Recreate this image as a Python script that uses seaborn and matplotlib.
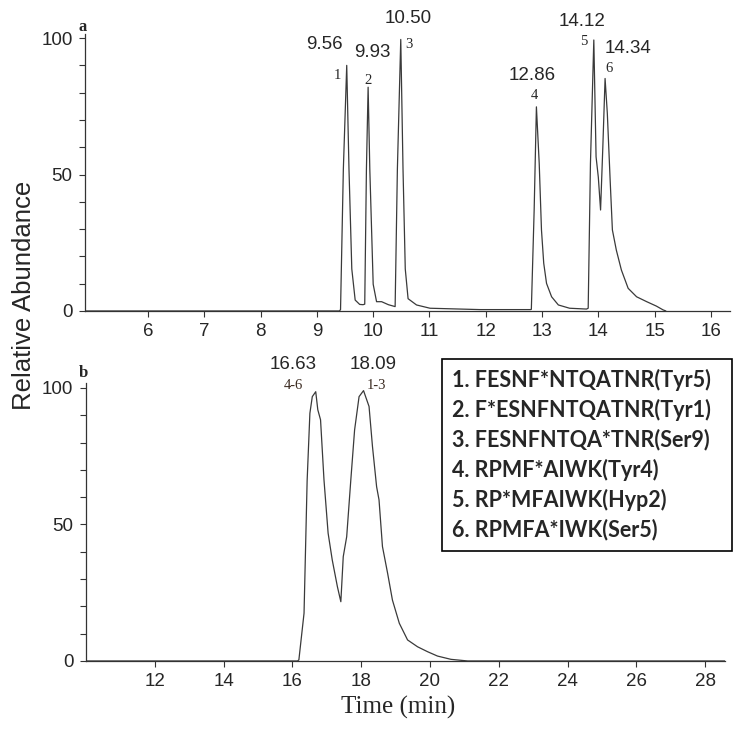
import matplotlib
matplotlib.use("Agg")
import matplotlib.pyplot as plt
from matplotlib.patches import Rectangle
from matplotlib.ticker import MultipleLocator
import pandas as pd
import seaborn as sns

# chromatogram a (time in min, relative abundance)
t_a = [4.88, 9.40, 9.42, 9.47, 9.53, 9.57, 9.62, 9.68, 9.76, 9.82, 9.85, 9.88, 9.91,
       9.94, 10.00, 10.06, 10.15, 10.27, 10.39, 10.43, 10.49, 10.53, 10.57, 10.62,
       10.77, 11.01, 11.90, 12.79, 12.81, 12.86, 12.90, 12.95, 12.99, 13.03, 13.08,
       13.17, 13.29, 13.49, 13.79, 13.82, 13.86, 13.92, 13.96, 14.00, 14.04, 14.08,
       14.12, 14.16, 14.21, 14.25, 14.32, 14.41, 14.53, 14.68, 14.86, 15.03, 15.15,
       15.20]
y_a = [0, 0, 0.5, 52, 90, 52, 15.4, 4, 2.4, 2.3, 2.5, 52, 82,
       52, 9.8, 3.4, 3.4, 2.3, 1.6, 52, 99.5, 52, 15.4, 4.5,
       2.2, 1.0, 0.5, 0.5, 0.6, 37, 74.8, 54, 29.7, 17.5, 10.1,
       5.2, 2.2, 1.0, 0.7, 1.0, 54, 99.3, 56.5, 49, 37, 60,
       85.2, 72.4, 48, 29.7, 22.3, 15, 8.3, 5.2, 3.4, 1.8, 0.4,
       0]

# chromatogram b
t_b = [10.0, 16.15, 16.19, 16.34, 16.43, 16.51, 16.58, 16.68, 16.74, 16.82, 16.92,
       17.04, 17.16, 17.31, 17.41, 17.48, 17.58, 17.70, 17.81, 17.94, 18.07, 18.13,
       18.23, 18.33, 18.45, 18.52, 18.62, 18.77, 18.91, 19.11, 19.35, 19.64, 19.93,
       20.22, 20.61, 21.10, 28.58]
y_b = [0, 0, 0.4, 17.5, 66, 90.7, 96.8, 98.6, 92, 88.3, 66.3,
       46.8, 37, 27.2, 21.7, 38.2, 45.5, 66.3, 84.6, 96.8, 99, 96.8,
       93.2, 78.5, 63.8, 59, 41.9, 32.1, 22.3, 13.8, 7.7, 5.2, 3.4,
       1.8, 0.6, 0, 0]

# peak annotations: (x, y, text)
rt_a = [(9.13, 97.8, "9.56"), (9.98, 94.9, "9.93"), (10.62, 107, "10.50"),
        (12.82, 86.4, "12.86"), (13.71, 105.9, "14.12"), (14.52, 96.3, "14.34")]
num_a = [(9.36, 86.4, "1"), (9.91, 84.6, "2"), (10.63, 97.8, "3"),
         (12.87, 79.1, "4"), (13.74, 98.9, "5"), (14.19, 89.0, "6")]
rt_b = [(16.03, 108.4, "16.63"), (18.34, 108.4, "18.09")]
num_b = [(16.03, 100.7, "4-6"), (18.45, 100.7, "1-3")]

legend_lines = ["1. FESNF*NTQATNR(Tyr5)", "2. F*ESNFNTQATNR(Tyr1)",
                "3. FESNFNTQA*TNR(Ser9)", "4. RPMF*AIWK(Tyr4)",
                "5. RP*MFAIWK(Hyp2)", "6. RPMFA*IWK(Ser5)"]

sns.set_style("ticks")
plt.rcParams['font.family'] = ['Liberation Sans', 'DejaVu Sans']

fig = plt.figure(figsize=(7.45, 7.31), dpi=100)
ax_a = fig.add_axes([0.1141, 0.5746, 0.8658, 0.3789])
ax_b = fig.add_axes([0.1154, 0.0958, 0.8578, 0.3803])

df_a = pd.DataFrame({"t": t_a, "y": y_a})
df_b = pd.DataFrame({"t": t_b, "y": y_b})
sns.lineplot(data=df_a, x="t", y="y", ax=ax_a, color="#3a3a3a", lw=0.9, sort=False)
sns.lineplot(data=df_b, x="t", y="y", ax=ax_b, color="#3a3a3a", lw=0.9, sort=False)

ax_a.set_xlim(4.88, 16.34)
ax_a.set_ylim(0, 101.5)
ax_a.set_xticks(range(6, 17))
ax_b.set_xlim(10, 28.58)
ax_b.set_ylim(0, 101.8)
ax_b.set_xticks(range(12, 29, 2))

for ax in (ax_a, ax_b):
    ax.set_yticks([0, 50, 100])
    ax.yaxis.set_minor_locator(MultipleLocator(10))
    ax.tick_params(axis="both", which="both", direction="out", length=4,
                   width=0.8, color="#333333", labelsize=13.5, pad=5)
    ax.spines["right"].set_visible(False)
    ax.spines["top"].set_visible(False)
    for s in ("left", "bottom"):
        ax.spines[s].set_linewidth(0.9)
        ax.spines[s].set_color("#333333")
    ax.set_xlabel("")
    ax.set_ylabel("")

for x, y, s in rt_a:
    ax_a.text(x, y, s, ha="center", va="center", fontsize=13.5, clip_on=False)
for x, y, s in num_a:
    ax_a.text(x, y, s, ha="center", va="center", fontsize=10.5,
              family="Liberation Serif", clip_on=False)
for x, y, s in rt_b:
    ax_b.text(x, y, s, ha="center", va="center", fontsize=13.5, clip_on=False)
for x, y, s in num_b:
    ax_b.text(x, y, s, ha="center", va="center", fontsize=10.5,
              family="Liberation Serif", color="#3a2a20", clip_on=False)

fig.text(83 / 745, 1 - 27 / 731, "a", ha="center", va="center", fontsize=12,
         fontweight="bold", family="Liberation Serif")
fig.text(83 / 745, 1 - 373 / 731, "b", ha="center", va="center", fontsize=12,
         fontweight="bold", family="Liberation Serif")
fig.text(24 / 745, 1 - 295 / 731, "Relative Abundance", rotation=90,
         ha="center", va="center", fontsize=18.5)
fig.text(398 / 745, 1 - 707 / 731, "Time (min)", ha="center", va="center",
         fontsize=18, family="Liberation Serif")

# compound key box
fig.patches.append(Rectangle((442 / 745, 1 - 551 / 731), 290 / 745, 192 / 731,
                             transform=fig.transFigure, fill=False,
                             edgecolor="black", lw=1.2))
for i, s in enumerate(legend_lines):
    fig.text(452 / 745, 1 - (380 + 30 * i) / 731, s, ha="left", va="center",
             fontsize=15.5, fontweight="bold", family="Lato")

fig.savefig("out.png", dpi=100)
